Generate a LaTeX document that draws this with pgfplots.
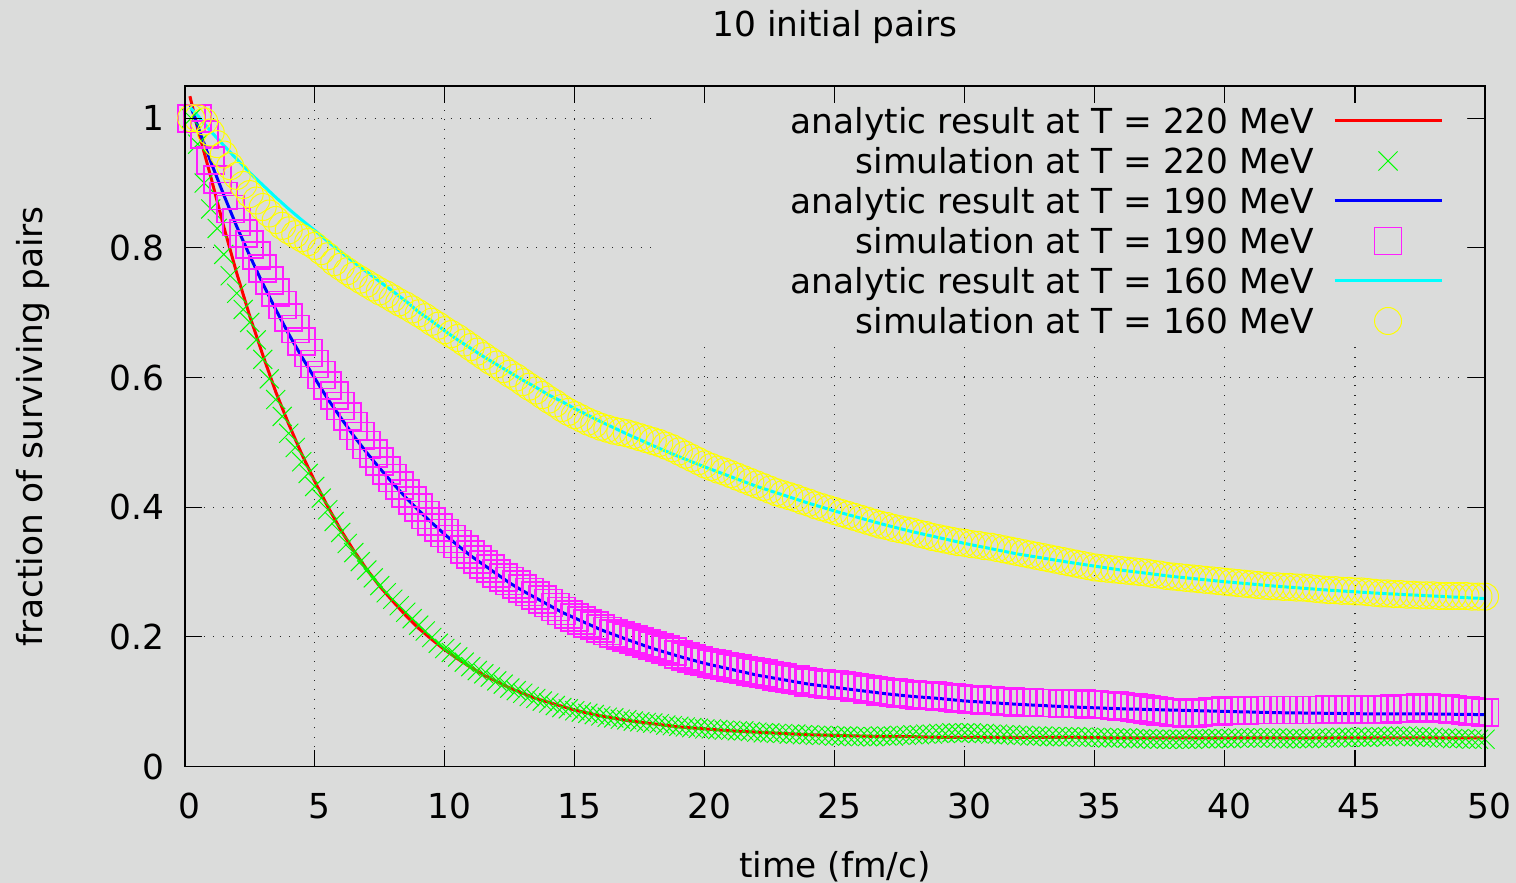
\documentclass[border=0pt]{standalone}
\usepackage{fontspec}
\setmainfont{DejaVu Sans}
\usepackage{pgfplots}
\usepackage{pgfplotstable}
\pgfplotsset{compat=1.18}

\definecolor{bg}{RGB}{219,220,219}
\definecolor{cred}{RGB}{255,0,0}
\definecolor{cgreen}{RGB}{0,255,0}
\definecolor{cblue}{RGB}{0,0,255}
\definecolor{cmagenta}{RGB}{255,30,255}
\definecolor{ccyan}{RGB}{0,255,255}
\definecolor{cyellow}{RGB}{255,255,0}

\newcommand{\chartfont}{\fontsize{34.4bp}{41bp}\selectfont}

% analytic survival fractions: t, 220 MeV, 190 MeV, 160 MeV
\pgfplotstableread{
t r b c
0.2 1.034 1.022 1.017
0.5 0.984 0.988 1.004
1 0.910 0.933 0.980
1.5 0.833 0.882 0.958
2 0.761 0.833 0.937
2.5 0.695 0.788 0.916
3 0.635 0.745 0.897
3.5 0.578 0.705 0.878
4 0.528 0.667 0.860
4.5 0.482 0.632 0.843
5 0.440 0.599 0.827
5.5 0.401 0.567 0.810
6 0.365 0.538 0.794
6.5 0.333 0.510 0.778
7 0.304 0.484 0.763
7.5 0.278 0.460 0.748
8 0.255 0.437 0.733
8.5 0.233 0.415 0.718
9 0.213 0.395 0.701
9.5 0.196 0.376 0.687
10 0.180 0.358 0.672
10.5 0.166 0.341 0.658
11 0.153 0.325 0.645
11.5 0.141 0.311 0.632
12 0.131 0.297 0.620
12.5 0.121 0.283 0.608
13 0.113 0.271 0.596
13.5 0.105 0.260 0.585
14 0.099 0.249 0.573
14.5 0.093 0.238 0.563
15 0.087 0.229 0.552
16 0.078 0.211 0.532
17 0.071 0.196 0.513
18 0.066 0.182 0.495
19 0.061 0.170 0.478
20 0.058 0.159 0.462
21 0.055 0.150 0.447
22 0.053 0.141 0.432
23 0.051 0.134 0.419
24 0.049 0.127 0.406
25 0.048 0.122 0.394
26 0.047 0.117 0.383
27 0.046 0.112 0.372
28 0.046 0.108 0.362
29 0.045 0.105 0.353
30 0.045 0.101 0.344
32 0.045 0.096 0.328
34 0.045 0.092 0.315
36 0.044 0.089 0.303
38 0.044 0.087 0.293
40 0.044 0.085 0.285
42 0.044 0.083 0.278
44 0.044 0.082 0.272
46 0.044 0.081 0.267
48 0.044 0.081 0.263
50 0.044 0.080 0.259
}\analytic

% simulated survival fractions: t, 220 MeV, 190 MeV, 160 MeV
\pgfplotstableread{
t g m y
0.25 1.000 1.000 1.000
0.5 0.960 1.000 1.000
0.75 0.900 0.975 0.995
1 0.860 0.935 0.978
1.25 0.830 0.905 0.960
1.5 0.790 0.880 0.944
1.75 0.757 0.860 0.926
2 0.730 0.840 0.911
2.25 0.705 0.822 0.897
2.5 0.685 0.805 0.883
2.75 0.658 0.788 0.873
3 0.628 0.768 0.863
3.25 0.598 0.750 0.853
3.5 0.566 0.731 0.843
3.75 0.540 0.712 0.834
4 0.514 0.693 0.827
4.25 0.492 0.675 0.821
4.5 0.470 0.656 0.815
4.75 0.452 0.638 0.809
5 0.432 0.621 0.803
5.25 0.414 0.604 0.795
5.5 0.396 0.588 0.787
5.75 0.378 0.572 0.778
6 0.361 0.556 0.771
6.25 0.344 0.540 0.764
6.5 0.330 0.525 0.757
6.75 0.316 0.510 0.751
7 0.303 0.496 0.745
7.25 0.291 0.483 0.739
7.5 0.279 0.470 0.733
7.75 0.268 0.457 0.728
8 0.258 0.445 0.722
8.25 0.248 0.433 0.716
8.5 0.238 0.421 0.711
8.75 0.228 0.410 0.705
9 0.218 0.399 0.699
9.25 0.209 0.388 0.693
9.5 0.199 0.378 0.686
9.75 0.190 0.369 0.680
10 0.182 0.360 0.673
10.25 0.176 0.351 0.667
10.5 0.169 0.343 0.661
10.75 0.161 0.335 0.654
11 0.154 0.327 0.647
11.25 0.148 0.319 0.640
11.5 0.143 0.312 0.633
11.75 0.138 0.305 0.626
12 0.132 0.298 0.620
12.25 0.127 0.292 0.613
12.5 0.121 0.286 0.606
12.75 0.117 0.281 0.600
13 0.113 0.275 0.593
13.25 0.108 0.269 0.586
13.5 0.105 0.264 0.580
13.75 0.101 0.258 0.573
14 0.098 0.252 0.566
14.25 0.094 0.246 0.560
14.5 0.091 0.240 0.553
14.75 0.089 0.235 0.547
15 0.086 0.230 0.542
15.25 0.084 0.225 0.537
15.5 0.082 0.221 0.532
15.75 0.080 0.217 0.528
16 0.078 0.213 0.524
16.25 0.076 0.209 0.521
16.5 0.075 0.205 0.518
16.75 0.073 0.202 0.516
17 0.072 0.199 0.514
17.25 0.070 0.196 0.511
17.5 0.069 0.193 0.508
17.75 0.068 0.190 0.505
18 0.067 0.187 0.502
18.25 0.066 0.184 0.499
18.5 0.064 0.181 0.495
18.75 0.063 0.177 0.491
19 0.062 0.173 0.486
19.25 0.061 0.170 0.481
19.5 0.060 0.167 0.476
19.75 0.059 0.164 0.471
20 0.058 0.161 0.466
20.25 0.058 0.159 0.462
20.5 0.057 0.157 0.458
20.75 0.056 0.155 0.455
21 0.056 0.153 0.451
21.25 0.055 0.151 0.447
21.5 0.055 0.149 0.443
21.75 0.054 0.147 0.439
22 0.053 0.145 0.435
22.25 0.052 0.143 0.431
22.5 0.052 0.141 0.427
22.75 0.051 0.139 0.423
23 0.051 0.137 0.420
23.25 0.050 0.135 0.417
23.5 0.050 0.134 0.414
23.75 0.049 0.132 0.410
24 0.049 0.130 0.407
24.25 0.048 0.129 0.403
24.5 0.048 0.128 0.400
24.75 0.048 0.127 0.397
25 0.047 0.126 0.394
25.25 0.047 0.125 0.391
25.5 0.047 0.124 0.388
25.75 0.046 0.122 0.385
26 0.046 0.121 0.382
26.25 0.046 0.119 0.379
26.5 0.046 0.118 0.376
26.75 0.047 0.116 0.373
27 0.047 0.115 0.371
27.25 0.047 0.114 0.368
27.5 0.048 0.113 0.366
27.75 0.048 0.112 0.364
28 0.049 0.111 0.362
28.25 0.049 0.110 0.359
28.5 0.050 0.110 0.357
28.75 0.050 0.109 0.354
29 0.051 0.108 0.352
29.25 0.051 0.107 0.350
29.5 0.052 0.106 0.348
29.75 0.052 0.105 0.346
30 0.052 0.104 0.345
30.25 0.052 0.103 0.343
30.5 0.051 0.103 0.342
30.75 0.051 0.102 0.340
31 0.050 0.102 0.339
31.25 0.050 0.101 0.337
31.5 0.049 0.100 0.335
31.75 0.049 0.100 0.333
32 0.048 0.099 0.331
32.25 0.048 0.099 0.329
32.5 0.047 0.099 0.327
32.75 0.047 0.098 0.325
33 0.047 0.098 0.323
33.25 0.046 0.098 0.321
33.5 0.046 0.098 0.319
33.75 0.046 0.097 0.317
34 0.046 0.097 0.315
34.25 0.046 0.097 0.313
34.5 0.045 0.097 0.311
34.75 0.045 0.096 0.309
35 0.045 0.096 0.307
35.25 0.045 0.095 0.306
35.5 0.044 0.095 0.305
35.75 0.044 0.094 0.304
36 0.044 0.093 0.303
36.25 0.044 0.092 0.302
36.5 0.043 0.091 0.301
36.75 0.043 0.089 0.300
37 0.043 0.088 0.299
37.25 0.042 0.086 0.297
37.5 0.042 0.085 0.296
37.75 0.042 0.084 0.294
38 0.042 0.083 0.293
38.25 0.042 0.083 0.292
38.5 0.042 0.082 0.291
38.75 0.042 0.082 0.290
39 0.043 0.083 0.289
39.25 0.043 0.084 0.288
39.5 0.043 0.085 0.287
39.75 0.043 0.085 0.286
40 0.043 0.086 0.285
40.25 0.043 0.086 0.284
40.5 0.044 0.086 0.283
40.75 0.044 0.086 0.282
41 0.044 0.087 0.281
41.25 0.044 0.087 0.280
41.5 0.044 0.087 0.279
41.75 0.044 0.087 0.278
42 0.044 0.087 0.278
42.25 0.043 0.087 0.277
42.5 0.043 0.087 0.277
42.75 0.043 0.087 0.276
43 0.043 0.087 0.276
43.25 0.043 0.087 0.275
43.5 0.044 0.087 0.274
43.75 0.044 0.087 0.273
44 0.044 0.088 0.272
44.25 0.044 0.088 0.272
44.5 0.045 0.088 0.271
44.75 0.045 0.088 0.271
45 0.045 0.088 0.270
45.25 0.045 0.088 0.270
45.5 0.045 0.088 0.269
45.75 0.046 0.088 0.268
46 0.046 0.088 0.267
46.25 0.046 0.088 0.267
46.5 0.047 0.089 0.266
46.75 0.047 0.089 0.266
47 0.047 0.090 0.265
47.25 0.046 0.090 0.265
47.5 0.046 0.091 0.264
47.75 0.045 0.091 0.264
48 0.045 0.090 0.264
48.25 0.044 0.090 0.263
48.5 0.044 0.089 0.263
48.75 0.043 0.088 0.263
49 0.043 0.087 0.263
49.25 0.043 0.086 0.263
49.5 0.042 0.085 0.262
49.75 0.042 0.084 0.262
50 0.042 0.083 0.262
}\simdata

\pgfplotsset{
  plotbox/.style={
    at={(184.7bp,116.5bp)}, anchor=south west, scale only axis,
    width=1300.3bp, height=680.5bp,
    xmin=0, xmax=50, ymin=0, ymax=1.0497,
    xtick={0,5,10,15,20,25,30,35,40,45,50},
    ytick={0,0.2,0.4,0.6,0.8,1},
  },
  lineleg/.style={legend image code/.code={
      \path[draw=none,fill=none] (0bp,-13.5bp) rectangle (107bp,13.5bp);
      \draw[##1] (0bp,0bp) -- (107bp,0bp);}},
  markleg/.style={legend image code/.code={
      \path[draw=none,fill=none] (0bp,-13.5bp) rectangle (107bp,13.5bp);
      \draw[##1] plot coordinates {(53.5bp,0bp)};}},
}

\begin{document}
\begin{tikzpicture}
\fill[bg] (0,0) rectangle (1516bp,883bp);

% grid, curves, simulations and the key
\begin{axis}[
  plotbox, clip=false, major tick length=0pt,
  xticklabels={}, yticklabels={}, axis line style={draw=none},
  grid=major,
  major grid style={black!85, line width=1.1bp, dash pattern=on 1.1bp off 8.4bp},
  legend cell align=right,
  legend plot pos=right,
  legend style={draw=none, fill=none, inner sep=0pt, outer sep=0pt,
    column sep=19bp, font=\chartfont,
    nodes={inner sep=0pt, minimum height=40bp},
    at={(0.96773,0.97796)}, anchor=north east},
]
\fill[bg] (rel axis cs:0.3586,0.6165) rectangle (rel axis cs:0.9831,1);

\addplot[cred, line width=3bp, lineleg] table[x=t, y=r] {\analytic};
\addlegendentry{analytic result at T = 220 MeV}
\addplot[cgreen, only marks, mark=x, mark size=13.5bp, line width=1bp,
  markleg] table[x=t, y=g] {\simdata};
\addlegendentry{simulation at T = 220 MeV}
\addplot[cblue, line width=3bp, lineleg] table[x=t, y=b] {\analytic};
\addlegendentry{analytic result at T = 190 MeV}
\addplot[cmagenta, only marks, mark=square, mark size=13.5bp, line width=1.7bp,
  markleg] table[x=t, y=m] {\simdata};
\addlegendentry{simulation at T = 190 MeV}
\addplot[ccyan, line width=3bp, lineleg] table[x=t, y=c] {\analytic};
\addlegendentry{analytic result at T = 160 MeV}
\addplot[cyellow, only marks, mark=o, mark size=13.5bp, line width=1bp,
  markleg] table[x=t, y=y] {\simdata};
\addlegendentry{simulation at T = 160 MeV}
\end{axis}

% frame, ticks and labels on top
\begin{axis}[
  plotbox,
  axis line style={black, line width=1.8bp},
  tick align=inside,
  major tick length=17bp,
  every tick/.style={black, line width=1.1bp},
  /pgf/number format/assume math mode=true,
  xticklabel style={font=\chartfont, anchor=base, inner sep=0pt, yshift=-51.5bp, xshift=4.5bp},
  yticklabel style={font=\chartfont, anchor=east, inner sep=0pt, xshift=-20bp},
  title={10 initial pairs},
  title style={font=\chartfont, at={(0.5,1.06466)}, anchor=base, inner sep=0pt},
  xlabel={time (fm/c)},
  xlabel style={font=\chartfont, at={(0.5,-0.16238)}, anchor=base, inner sep=0pt},
  ylabel={fraction of surviving pairs},
  ylabel style={font=\chartfont, at={(-0.10898,0.5)}, anchor=base, inner sep=0pt},
]
\end{axis}

\pgfresetboundingbox
\useasboundingbox (0,0) rectangle (1516bp,883bp);
\end{tikzpicture}
\end{document}
